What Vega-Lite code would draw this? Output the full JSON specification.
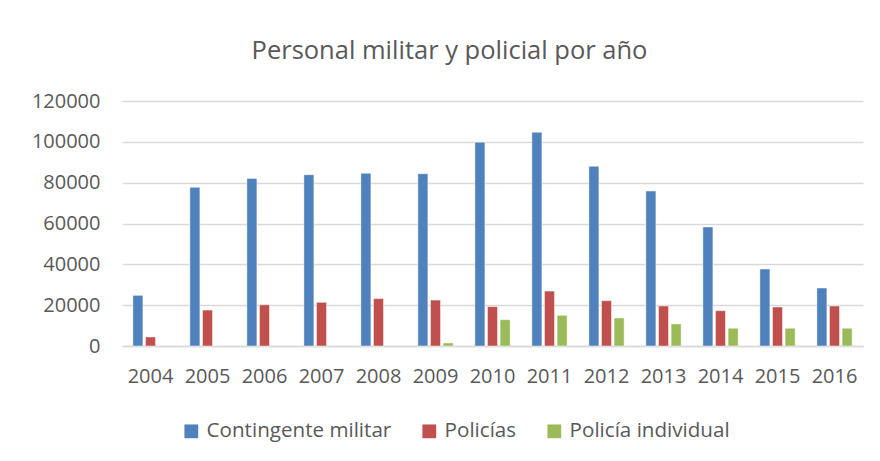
{
  "$schema": "https://vega.github.io/schema/vega-lite/v6.json",
  "autosize": {"type": "none"},
  "width": 741,
  "height": 245,
  "padding": {"left": 122, "top": 101, "right": 17, "bottom": 115},
  "background": "#ffffff",
  "title": {
    "text": "Personal militar y policial por año",
    "font": "Open Sans",
    "fontSize": 25.5,
    "fontWeight": "normal",
    "color": "#595959",
    "anchor": "middle",
    "dx": -43,
    "offset": 27
  },
  "data": {
    "values": [
      {"year": "2004", "series": "Contingente militar", "value": 24800},
      {"year": "2004", "series": "Policías", "value": 4400},
      {"year": "2005", "series": "Contingente militar", "value": 77700},
      {"year": "2005", "series": "Policías", "value": 17600},
      {"year": "2006", "series": "Contingente militar", "value": 82100},
      {"year": "2006", "series": "Policías", "value": 20200},
      {"year": "2007", "series": "Contingente militar", "value": 83900},
      {"year": "2007", "series": "Policías", "value": 21400},
      {"year": "2008", "series": "Contingente militar", "value": 84600},
      {"year": "2008", "series": "Policías", "value": 23200},
      {"year": "2009", "series": "Contingente militar", "value": 84400},
      {"year": "2009", "series": "Policías", "value": 22500},
      {"year": "2009", "series": "Policía individual", "value": 1500},
      {"year": "2010", "series": "Contingente militar", "value": 99800},
      {"year": "2010", "series": "Policías", "value": 19300},
      {"year": "2010", "series": "Policía individual", "value": 12900},
      {"year": "2011", "series": "Contingente militar", "value": 104700},
      {"year": "2011", "series": "Policías", "value": 26900},
      {"year": "2011", "series": "Policía individual", "value": 15000},
      {"year": "2012", "series": "Contingente militar", "value": 88000},
      {"year": "2012", "series": "Policías", "value": 22200},
      {"year": "2012", "series": "Policía individual", "value": 13700},
      {"year": "2013", "series": "Contingente militar", "value": 75900},
      {"year": "2013", "series": "Policías", "value": 19600},
      {"year": "2013", "series": "Policía individual", "value": 10800},
      {"year": "2014", "series": "Contingente militar", "value": 58300},
      {"year": "2014", "series": "Policías", "value": 17300},
      {"year": "2014", "series": "Policía individual", "value": 8700},
      {"year": "2015", "series": "Contingente militar", "value": 37700},
      {"year": "2015", "series": "Policías", "value": 19100},
      {"year": "2015", "series": "Policía individual", "value": 8700},
      {"year": "2016", "series": "Contingente militar", "value": 28400},
      {"year": "2016", "series": "Policías", "value": 19600},
      {"year": "2016", "series": "Policía individual", "value": 8700}
    ]
  },
  "mark": {"type": "bar", "stroke": "#ffffff", "strokeWidth": 1, "strokeOpacity": 0.45},
  "encoding": {
    "x": {
      "field": "year",
      "type": "nominal",
      "title": null,
      "scale": {"paddingInner": 0.382, "paddingOuter": 0.191},
      "axis": {
        "labelAngle": 0,
        "labelFont": "Open Sans",
        "labelFontSize": 20,
        "labelColor": "#595959",
        "labelPadding": 20,
        "ticks": false,
        "domainColor": "#d9d9d9",
        "domainWidth": 1.3,
        "grid": false
      }
    },
    "xOffset": {
      "field": "series",
      "type": "nominal",
      "sort": ["Contingente militar", "Policías", "Policía individual"],
      "scale": {"paddingInner": 0.206, "paddingOuter": 0}
    },
    "y": {
      "field": "value",
      "type": "quantitative",
      "title": null,
      "scale": {"domain": [0, 120000], "nice": false},
      "axis": {
        "values": [0, 20000, 40000, 60000, 80000, 100000, 120000],
        "format": "d",
        "labelFont": "Open Sans",
        "labelFontSize": 20,
        "labelColor": "#595959",
        "labelPadding": 22,
        "ticks": false,
        "domain": false,
        "gridColor": "#d9d9d9",
        "gridWidth": 1.3
      }
    },
    "color": {
      "field": "series",
      "type": "nominal",
      "title": null,
      "scale": {
        "domain": ["Contingente militar", "Policías", "Policía individual"],
        "range": ["#4f81bd", "#c0504d", "#9bbb59"]
      },
      "legend": {
        "orient": "none",
        "direction": "horizontal",
        "legendX": 59,
        "legendY": 320,
        "symbolType": "square",
        "symbolSize": 190,
        "symbolStrokeWidth": 0,
        "labelFont": "Open Sans",
        "labelFontSize": 20.6,
        "labelColor": "#595959",
        "labelOffset": 5,
        "labelLimit": 400,
        "columnPadding": 27
      }
    }
  },
  "config": {
    "view": {"stroke": null}
  }
}
